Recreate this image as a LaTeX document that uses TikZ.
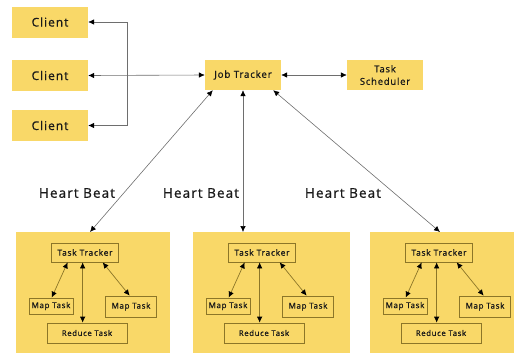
\documentclass[tikz,border=0pt]{standalone}
\usepackage{fontspec}
\setmainfont{Open Sans}[LetterSpace=8,FakeBold=0.8]
\usepackage{tikz}
\usetikzlibrary{calc,arrows.meta}

\definecolor{boxyellow}{RGB}{249,216,104}
\definecolor{inline}{RGB}{140,118,40}
\definecolor{wire}{RGB}{110,110,110}

\tikzset{
  box/.style={fill=boxyellow,inner sep=0pt,align=center,text=black!90,font=\fontsize{12}{13}\selectfont},
  inbox/.style={draw=inline,line width=0.7pt,inner sep=0pt,align=center,text=black!90,font=\fontsize{8.5}{10}\selectfont},
  link/.style={{Latex[black,length=6pt,width=5.5pt]}-{Latex[black,length=6pt,width=5.5pt]},draw=wire,line width=0.6pt},
  inlink/.style={{Latex[black,length=6pt,width=5.5pt]}-{Latex[black,length=6pt,width=5.5pt]},draw=inline,line width=0.7pt}
}

\begin{document}
\begin{tikzpicture}[x=1pt,y=-1pt]
  \useasboundingbox (0,0) rectangle (516,354);

  %% Clients and the job tracker
  \foreach \n/\y in {1/22,2/75.5,3/125.5}
  {
    \node[box,minimum width=76pt,minimum height=31pt] (C\n) at (50,\y) {Client};
  }
  \node[box,minimum width=76pt,minimum height=30pt,font=\fontsize{9.8}{11}\selectfont] (JT) at (243,75) {Job Tracker};
  \node[box,minimum width=76pt,minimum height=30pt,font=\fontsize{9.5}{12.5}\selectfont] (TS) at (385,75) {Task\\Scheduler};

  \draw[link] (C1.east) -- ++(39,0) |- (C3.east);
  \draw[link] (C2.east) -- (JT.west);
  \draw[link] (JT.east) -- (TS.west);

  %% Task tracker boxes
  \foreach \n/\l/\w in {1/16/154,2/193/157,3/370/144}
  {
    \node[box,minimum width=\w pt,minimum height=121pt,anchor=north west] (TB\n) at (\l,232) {};
    \node[inbox,minimum width=67pt,minimum height=19pt] (TT\n) at (\l+69,252.5) {Task Tracker};
    \node[inbox,minimum width=44pt,minimum height=16pt,font=\fontsize{8}{9}\selectfont] (ML\n) at (\l+35,306) {Map Task};
    \node[inbox,minimum width=51pt,minimum height=21pt,font=\fontsize{8}{9}\selectfont] (MR\n) at (\l+115,306.5) {Map Task};
    \node[inbox,minimum width=80pt,minimum height=20pt,font=\fontsize{7.8}{9}\selectfont] (RT\n) at (\l+71,333) {Reduce Task};
    \draw[inlink] ($(TT\n.south west)+(16.5,0)$) -- ($(ML\n.north west)+(23,0)$);
    \draw[inlink] ($(TT\n.south west)+(31.5,0)$) -- ($(RT\n.north west)+(36,0)$);
    \draw[inlink] ($(TT\n.south west)+(51.5,0)$) -- ($(MR\n.north west)+(24.5,0)$);
  }

  %% Heart beats
  \draw[link] ($(JT.south west)+(8,0)$) -- ($(TB1.north west)+(74,0)$);
  \draw[link] (JT.south) -- ($(TB2.north west)+(50,0)$);
  \draw[link] ($(JT.south east)+(-8,0)$) -- ($(TB3.north west)+(70,0)$);

  \foreach \n/\x in {1/77,2/201,3/343}
  {
    \node[font=\fontsize{13.5}{15}\selectfont,text=black!90] (HB\n) at (\x,193) {Heart Beat};
  }
\end{tikzpicture}
\end{document}
